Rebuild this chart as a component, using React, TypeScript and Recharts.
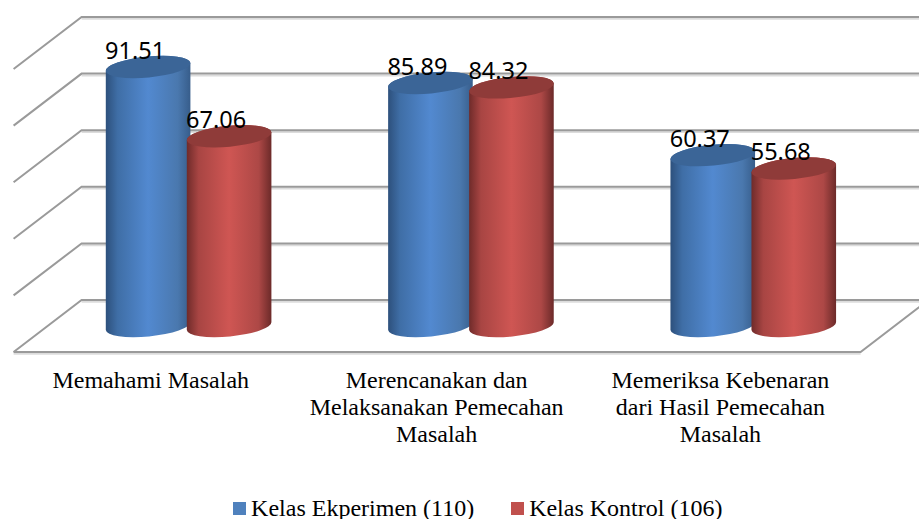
import React from "react";
import { BarChart, Bar, XAxis, YAxis, CartesianGrid, Legend, LabelList } from "recharts";

const categories = [
  "Memahami Masalah",
  "Merencanakan dan\nMelaksanakan Pemecahan\nMasalah",
  "Memeriksa Kebenaran\ndari Hasil Pemecahan\nMasalah",
];
const eksperimen = [91.51, 85.89, 60.37];
const kontrol = [67.06, 84.32, 55.68];
const seriesNames = ["Kelas Ekperimen (110)", "Kelas Kontrol (106)"];
const yTicks = [0, 20, 40, 60, 80, 100];

const rows = categories.map((name, i) => ({ name, eksperimen: eksperimen[i], kontrol: kontrol[i] }));

const DEPTH_X = 34;
const DEPTH_Y = 26;
const GRID = "#9a9a9a";
const GRID_SOFT = "#dcdcdc";
const SERIF = "'Liberation Serif', serif";
const ROT = -5.5;
const TICK_NUDGE = [-4, -0.5, 1];

function Cylinder(props: any) {
  const { x, y, width, height, gradient, top } = props;
  const a = width / 2;
  const b = 10.5;
  const t = (ROT * Math.PI) / 180;
  const cx = x + a;
  const dx = a * Math.cos(t);
  const dy = a * Math.sin(t);
  const yb = y + height;
  const d = `M${cx - dx} ${y - dy} L${cx - dx} ${yb - dy} A${a} ${b} ${ROT} 0 0 ${cx + dx} ${yb + dy} L${cx + dx} ${y + dy} A${a} ${b} ${ROT} 0 0 ${cx - dx} ${y - dy} Z`;
  return (
    <g>
      <path d={d} fill={`url(#${gradient})`} />
      <ellipse cx={cx} cy={y} rx={a} ry={b} fill={top} transform={`rotate(${ROT} ${cx} ${y})`} />
    </g>
  );
}

function WallLine(props: any) {
  const { x1, x2, y1, index } = props;
  const backY = y1 - DEPTH_Y;
  const frontY = y1 + DEPTH_Y;
  const backL = x1 + DEPTH_X;
  const frontL = x1 - DEPTH_X;
  const backR = x2 + DEPTH_X;
  const frontR = x2 - DEPTH_X;
  const isFloor = Math.abs(y1 - 326) < 1;
  return (
    <g key={`wall-${index}`} fill="none" strokeWidth={2}>
      <line x1={backL} y1={backY + 1.8} x2={backR} y2={backY + 1.8} stroke={GRID_SOFT} />
      <path d={`M${frontL} ${frontY} L${backL} ${backY} L${backR} ${backY}`} stroke={GRID} />
      {isFloor && (
        <>
          <line x1={frontL} y1={frontY + 1.8} x2={frontR} y2={frontY + 1.8} stroke={GRID_SOFT} />
          <path d={`M${frontL} ${frontY} L${frontR} ${frontY} L${backR} ${backY}`} stroke={GRID} />
        </>
      )}
    </g>
  );
}

function CategoryTick(props: any) {
  const { x, y, payload, index } = props;
  const lines = String(payload.value).split("\n");
  const tx = x - DEPTH_X + (TICK_NUDGE[index] || 0);
  return (
    <text x={tx} y={y} textAnchor="middle" fontFamily={SERIF} fontSize={24} fill="#000">
      {lines.map((line, i) => (
        <tspan key={i} x={tx} y={y + 54 + i * 27}>
          {line}
        </tspan>
      ))}
    </text>
  );
}

function ValueLabel(props: any) {
  const { x, y, width, value } = props;
  return (
    <text
      x={x + width / 2 - 13}
      y={y - 8}
      textAnchor="middle"
      fontFamily="'Noto Sans', sans-serif"
      fontSize={23.5}
      fill="#000"
    >
      {Number(value).toFixed(2)}
    </text>
  );
}

function ChartLegend(props: any) {
  const items = props.payload || [];
  return (
    <div style={{ display: "flex", alignItems: "center", height: 24, paddingLeft: 185.5, paddingTop: 1, fontFamily: SERIF, fontSize: 24, color: "#000" }}>
      {items.map((item: any, i: number) => (
        <div key={i} style={{ display: "flex", alignItems: "center", marginRight: 37 }}>
          <span style={{ display: "inline-block", width: 13, height: 13, background: item.color, marginRight: 5 }} />
          <span style={{ whiteSpace: "nowrap" }}>{item.value}</span>
        </div>
      ))}
    </div>
  );
}

export default function App() {
  return (
    <div style={{ position: "fixed", left: 0, top: 0, width: 919, height: 519, overflow: "hidden", background: "#fff" }}>
      <BarChart
        width={919}
        height={519}
        data={rows}
        margin={{ top: 43, right: 24.4, bottom: 0, left: 47.6 }}
        barSize={85}
        barGap={-4}
        barCategoryGap={0}
      >
        <defs>
          <linearGradient id="cylBlue" x1="0" y1="0" x2="1" y2="0">
            <stop offset="0" stopColor="#2d507c" />
            <stop offset="0.14" stopColor="#3f6ea6" />
            <stop offset="0.5" stopColor="#5289d0" />
            <stop offset="0.85" stopColor="#4a78ae" />
            <stop offset="1" stopColor="#375d8b" />
          </linearGradient>
          <linearGradient id="cylRed" x1="0" y1="0" x2="1" y2="0">
            <stop offset="0" stopColor="#6f2b2a" />
            <stop offset="0.14" stopColor="#a84543" />
            <stop offset="0.5" stopColor="#cf5653" />
            <stop offset="0.85" stopColor="#ad4846" />
            <stop offset="1" stopColor="#6c2a29" />
          </linearGradient>
        </defs>
        <CartesianGrid vertical={false} horizontal={(p: any) => <WallLine {...p} />} horizontalValues={yTicks} />
        <XAxis dataKey="name" interval={0} height={169} axisLine={false} tickLine={false} tick={(p: any) => <CategoryTick {...p} />} />
        <YAxis hide domain={[0, 100]} ticks={yTicks} />
        <Legend verticalAlign="bottom" height={24} content={(p: any) => <ChartLegend {...p} />} />
        <Bar
          dataKey="eksperimen"
          name={seriesNames[0]}
          fill="#4f81bd"
          legendType="square"
          isAnimationActive={false}
          shape={(p: any) => <Cylinder {...p} gradient="cylBlue" top="#3b6597" />}
        >
          <LabelList dataKey="eksperimen" content={(p: any) => <ValueLabel {...p} />} />
        </Bar>
        <Bar
          dataKey="kontrol"
          name={seriesNames[1]}
          fill="#c0504d"
          legendType="square"
          isAnimationActive={false}
          shape={(p: any) => <Cylinder {...p} gradient="cylRed" top="#8f3b39" />}
        >
          <LabelList dataKey="kontrol" content={(p: any) => <ValueLabel {...p} />} />
        </Bar>
      </BarChart>
    </div>
  );
}
